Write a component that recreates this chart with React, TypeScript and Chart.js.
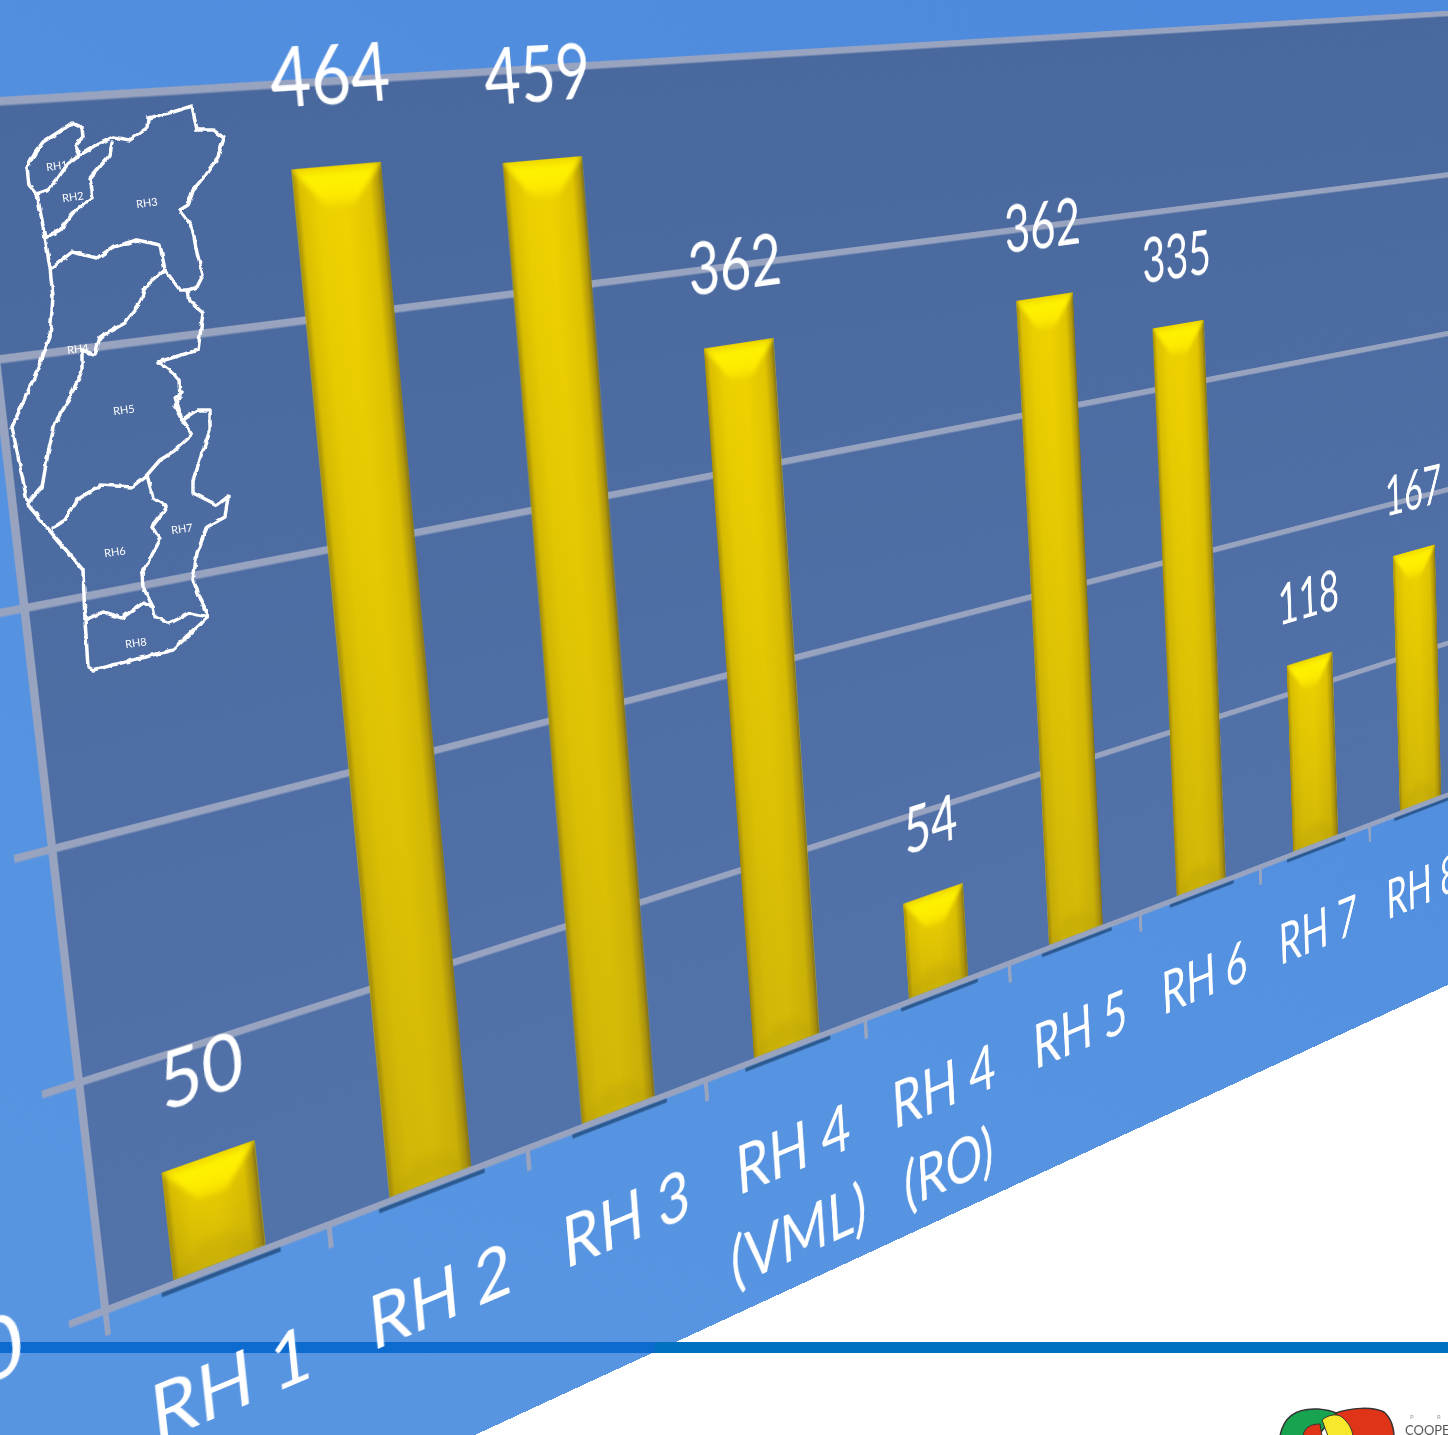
import React, { useEffect, useRef } from "react";
import { Chart, registerables } from "chart.js";

Chart.register(...registerables);

// The axis runs on past the picture's right edge: one more empty category keeps the plot going.
const categories: (string | string[])[] = ["RH 1", "RH 2", "RH 3", ["RH 4", "(VML)"], ["RH 4", "(RO)"], "RH 5", "RH 6", "RH 7", "RH 8", ""];
const values: (number | null)[] = [50, 464, 459, 362, 54, 362, 335, 118, 167, null];
const yTicks = [0, 100, 200, 300, 400, 500];

const FONT = "Lato, Carlito, sans-serif";
const CANVAS_W = 2970;
const CANVAS_H = 1560;
const PANEL_GAP = 250;
const VISIBLE_SHARE = 9 / 10;

// Where the plot rectangle's corners (first nine categories) land on the page (TL, TR, BR, BL)
const QUAD: [number, number][] = [[-34, 103], [1452, 13], [1470, 786], [105, 1310]];

function homography(r: { x: number; y: number; w: number; h: number }, q: [number, number][]) {
  const [[x0, y0], [x1, y1], [x2, y2], [x3, y3]] = q;
  const dx1 = x1 - x2, dx2 = x3 - x2, dx3 = x0 - x1 + x2 - x3;
  const dy1 = y1 - y2, dy2 = y3 - y2, dy3 = y0 - y1 + y2 - y3;
  const den = dx1 * dy2 - dx2 * dy1;
  const g = (dx3 * dy2 - dx2 * dy3) / den;
  const h = (dx1 * dy3 - dx3 * dy1) / den;
  const a = x1 - x0 + g * x1, b = x3 - x0 + h * x3, c = x0;
  const d = y1 - y0 + g * y1, e = y3 - y0 + h * y3, f = y0;
  const A = a / r.w, B = b / r.h, C = c - (a * r.x) / r.w - (b * r.y) / r.h;
  const D = d / r.w, E = e / r.h, F = f - (d * r.x) / r.w - (e * r.y) / r.h;
  const G = g / r.w, H = h / r.h, I = 1 - (g * r.x) / r.w - (h * r.y) / r.h;
  const m = [A / I, D / I, 0, G / I, B / I, E / I, 0, H / I, 0, 0, 1, 0, C / I, F / I, 0, 1];
  return `matrix3d(${m.join(",")})`;
}

const plotBackground = {
  id: "plotBackground",
  beforeDraw(chart: any) {
    const { ctx, chartArea: a } = chart;
    const gr = ctx.createLinearGradient(0, a.top, 0, a.bottom);
    gr.addColorStop(0, "#49689d");
    gr.addColorStop(1, "#5272aa");
    ctx.save();
    ctx.fillStyle = gr;
    ctx.fillRect(a.left, a.top, a.right - a.left, a.bottom - a.top);
    ctx.restore();
  },
};

const bevelBars = {
  id: "bevelBars",
  afterDatasetsDraw(chart: any) {
    const { ctx } = chart;
    const els = chart.getDatasetMeta(0).data;
    els.forEach((el: any, i: number) => {
      if (values[i] == null) return;
      const L = el.x - el.width / 2, R = el.x + el.width / 2, T = el.y, B = el.base;
      const inset = 31, depth = 34;
      ctx.save();
      // shadow under the baseline
      ctx.fillStyle = "#2c5a90";
      ctx.fillRect(L - 12, B + 7, el.width + 26, 4);
      ctx.beginPath();
      ctx.rect(L, T, R - L, B - T);
      ctx.clip();
      const h = ctx.createLinearGradient(L, 0, R, 0);
      h.addColorStop(0, "#a58e06");
      h.addColorStop(0.07, "#dcc000");
      h.addColorStop(0.25, "#ecd000");
      h.addColorStop(0.55, "#f0d300");
      h.addColorStop(0.85, "#e2c600");
      h.addColorStop(0.95, "#b49a08");
      h.addColorStop(1, "#7d7020");
      ctx.fillStyle = h;
      ctx.fillRect(L, T, R - L, B - T);
      const v = ctx.createLinearGradient(0, T, 0, B);
      v.addColorStop(0, "rgba(120,100,30,0)");
      v.addColorStop(1, "rgba(120,100,30,0.24)");
      ctx.fillStyle = v;
      ctx.fillRect(L, T, R - L, B - T);
      // bottom bevel
      ctx.filter = "blur(4px)";
      ctx.fillStyle = "rgba(125,105,0,0.10)";
      ctx.beginPath();
      ctx.moveTo(L, B);
      ctx.lineTo(R, B);
      ctx.lineTo(R - inset, B - 24);
      ctx.lineTo(L + inset, B - 24);
      ctx.closePath();
      ctx.fill();
      // top bevel
      ctx.filter = "blur(2.5px)";
      const t = ctx.createLinearGradient(0, T, 0, T + depth);
      t.addColorStop(0, "#ecd400");
      t.addColorStop(0.22, "#fff300");
      t.addColorStop(0.7, "#fcea00");
      t.addColorStop(1, "#f0d600");
      ctx.fillStyle = t;
      ctx.beginPath();
      ctx.moveTo(L - 2, T - 2);
      ctx.lineTo(R + 2, T - 2);
      ctx.lineTo(R - inset, T + depth);
      ctx.lineTo(L + inset, T + depth);
      ctx.closePath();
      ctx.fill();
      ctx.restore();
      // value label
      ctx.save();
      ctx.fillStyle = "#ffffff";
      ctx.font = `67px ${FONT}`;
      ctx.textAlign = "center";
      ctx.textBaseline = "bottom";
      ctx.fillText(String(values[i]), el.x + 2, T - 39);
      ctx.restore();
    });
  },
};

const OUTLINES: [number, number][][] = [
  // RH1
  [[27, 168], [35, 153], [43, 142], [57, 133], [72, 123], [82, 128], [83, 137], [75, 145], [80, 155], [67, 165], [58, 178], [48, 190], [37, 194], [29, 185], [27, 168]],
  // north edge and east border
  [[80, 155], [97, 145], [113, 137], [130, 140], [147, 128], [148, 118], [173, 112], [192, 106], [197, 130], [213, 130], [224, 138], [218, 157], [203, 178], [193, 190], [188, 205], [180, 210], [192, 227], [197, 253], [203, 275], [197, 287], [188, 290], [190, 302], [203, 313], [198, 350], [158, 362], [173, 373], [179, 380], [180, 397], [175, 407], [182, 420], [197, 410], [210, 410], [210, 430], [193, 480], [193, 483], [193, 493], [217, 505], [228, 497], [225, 517], [207, 527], [197, 553], [193, 580], [208, 617]],
  // west coast and south coast
  [[37, 194], [45, 237], [50, 268], [53, 297], [50, 337], [40, 363], [33, 380], [12, 427], [28, 505], [83, 570], [85, 620], [88, 667], [93, 670], [173, 650], [208, 617]],
  // RH2 / RH3
  [[112, 143], [110, 155], [90, 178], [93, 197], [73, 213], [60, 230], [45, 238]],
  // RH3 / RH4
  [[52, 268], [72, 252], [97, 258], [113, 247], [137, 240], [160, 245], [165, 270], [180, 290], [188, 290]],
  // RH4 / RH5
  [[165, 270], [145, 287], [140, 303], [125, 323], [100, 337], [95, 355], [82, 350], [82, 370], [78, 380], [67, 403], [55, 423], [48, 453], [42, 487], [28, 503]],
  // RH5 / RH6 + RH7
  [[182, 392], [175, 397], [182, 420], [192, 435], [173, 452], [160, 460], [147, 475], [132, 487], [100, 485], [77, 500], [65, 520], [53, 528]],
  // RH6 / RH7
  [[147, 475], [153, 498], [167, 507], [152, 527], [160, 540], [142, 573], [143, 587], [153, 607], [155, 617], [170, 623], [190, 613], [208, 617]],
  // RH8 north
  [[85, 620], [103, 612], [122, 618], [143, 603], [153, 607]],
];

const MAP_LABELS: [string, number, number][] = [
  ["RH1", 57, 167], ["RH2", 73, 198], ["RH3", 147, 204], ["RH4", 78, 350],
  ["RH5", 124, 411], ["RH6", 115, 553], ["RH7", 182, 530], ["RH8", 136, 644],
];

function Inset() {
  return (
    <svg width={1448} height={1435} style={{ position: "absolute", left: 0, top: 0, pointerEvents: "none" }}>
      <defs>
        <filter id="rough" x="0" y="0" width="100%" height="100%" filterUnits="userSpaceOnUse" primitiveUnits="userSpaceOnUse">
          <feTurbulence type="fractalNoise" baseFrequency="0.12" numOctaves={2} seed={4} />
          <feDisplacementMap in="SourceGraphic" scale={4} xChannelSelector="R" yChannelSelector="G" />
          <feGaussianBlur stdDeviation={0.4} />
        </filter>
      </defs>
      <g filter="url(#rough)">
        {OUTLINES.map((p, i) => (
          <polyline key={i} points={p.map((q) => q.join(",")).join(" ")} fill="none" stroke="#ffffff" strokeWidth={3.5} strokeLinejoin="round" strokeLinecap="round" />
        ))}
      </g>
      {MAP_LABELS.map(([t, x, y]) => (
        <text key={t} x={x} y={y} fill="#ffffff" fontSize={11} fontFamily={FONT} textAnchor="middle" dominantBaseline="middle" transform={`rotate(-8 ${x} ${y})`}>
          {t}
        </text>
      ))}
      {/* logo */}
      <path d="M1280 1436 C1284 1414 1300 1408 1318 1409 C1330 1410 1334 1412 1336 1413 L1318 1436 Z" fill="#17a350" stroke="#333" strokeWidth={1.5} />
      <path d="M1336 1413 C1350 1408 1372 1406 1384 1412 C1391 1418 1394 1428 1394 1436 L1340 1436 Z" fill="#e03419" stroke="#333" strokeWidth={1.5} />
      <path d="M1303 1436 C1304 1428 1310 1424 1320 1424 L1322 1436 Z" fill="#e03419" stroke="#333" strokeWidth={1} />
      <path d="M1322 1420 C1328 1415 1336 1413 1342 1417 C1350 1424 1352 1430 1353 1436 L1328 1436 Z" fill="#f9e72b" stroke="#333" strokeWidth={1} />
      <text x={1410} y={1419} fill="#999" fontSize={6} fontFamily={FONT}>P</text>
      <text x={1437} y={1419} fill="#999" fontSize={6} fontFamily={FONT}>R</text>
      <text x={1405} y={1435} fill="#555" fontSize={13} fontFamily={FONT}>COOPE</text>
    </svg>
  );
}

export default function App() {
  const canvasRef = useRef<HTMLCanvasElement | null>(null);
  const panelRef = useRef<HTMLDivElement | null>(null);

  useEffect(() => {
    const canvas = canvasRef.current!;
    const gridColor = "#98a3c0";
    const chart = new Chart(canvas, {
      type: "bar",
      data: {
        labels: categories as any,
        datasets: [{ data: values, backgroundColor: "#e8cc00", borderWidth: 0, barPercentage: 0.41, categoryPercentage: 1 }],
      },
      options: {
        animation: false,
        responsive: false,
        devicePixelRatio: 1,
        layout: { padding: { left: 200, right: 400, top: 200, bottom: 100 } },
        plugins: { legend: { display: false }, tooltip: { enabled: false } },
        scales: {
          x: {
            grid: { drawOnChartArea: false, color: gridColor, lineWidth: 5, tickLength: 22, tickColor: gridColor, z: 1 },
            border: { color: gridColor, width: 6, z: 2 },
            ticks: { color: "#ffffff", font: { size: 69, family: FONT, lineHeight: 1.32 }, maxRotation: 0, minRotation: 0, autoSkip: false, padding: 40 },
          },
          y: {
            min: 0,
            max: 500,
            afterBuildTicks(scale: any) {
              scale.ticks = yTicks.map((value) => ({ value }));
            },
            grid: { color: gridColor, lineWidth: 6.5, tickLength: 32, tickColor: gridColor },
            border: { color: gridColor, width: 7, z: 2 },
            ticks: { color: "#ffffff", font: { size: 72, family: FONT }, padding: 40 },
          },
        },
      },
      plugins: [plotBackground, bevelBars],
    });
    const a = chart.chartArea;
    const tf = homography({ x: a.left, y: a.top, w: (a.right - a.left) * VISIBLE_SHARE, h: a.bottom - a.top }, QUAD);
    canvas.style.transform = tf;
    if (panelRef.current) {
      panelRef.current.style.transform = tf;
      panelRef.current.style.height = `${a.bottom + PANEL_GAP}px`;
    }
    return () => chart.destroy();
  }, []);

  return (
    <div style={{ position: "fixed", left: 0, top: 0, width: 1448, height: 1435, overflow: "hidden", background: "#ffffff" }}>
      <div
        ref={panelRef}
        style={{ position: "absolute", left: 0, top: 0, width: CANVAS_W, transformOrigin: "0 0", background: "linear-gradient(30deg,#5997e2 0%,#5592e0 35%,#4d89dc 75%)" }}
      />
      <div style={{ position: "absolute", left: 0, top: 1342, width: 1448, height: 11, background: "linear-gradient(90deg,#0d6bd0 0,#0d6bd0 655px,#0070c0 655px,#0070c0 100%)" }} />
      <canvas ref={canvasRef} width={CANVAS_W} height={CANVAS_H} style={{ position: "absolute", left: 0, top: 0, width: CANVAS_W, height: CANVAS_H, transformOrigin: "0 0" }} />
      <Inset />
    </div>
  );
}
